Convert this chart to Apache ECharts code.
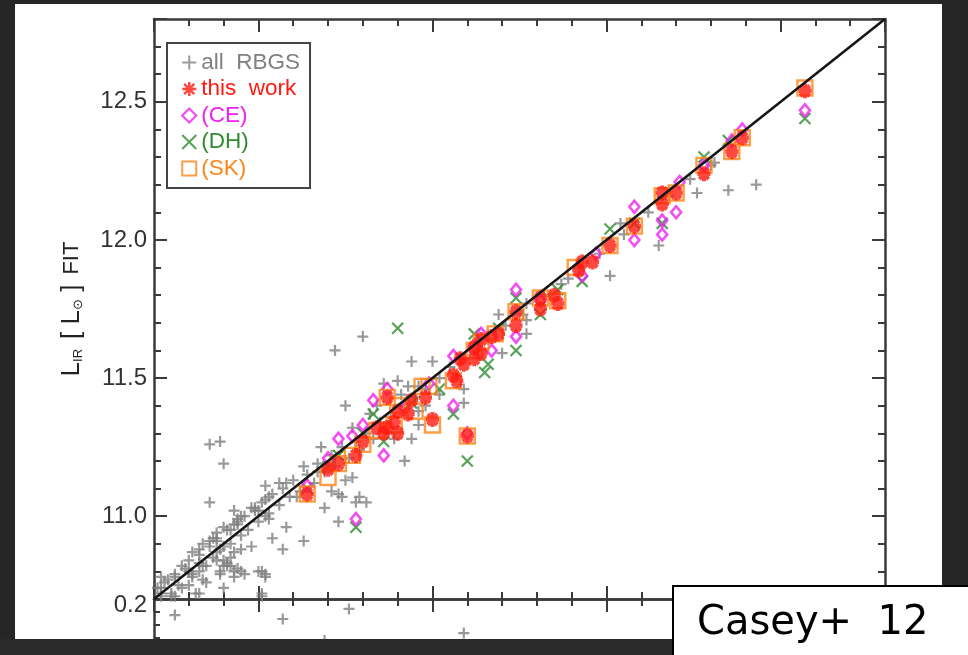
<!DOCTYPE html>
<html>
<head>
<meta charset="utf-8">
<script src="https://cdn.jsdelivr.net/npm/echarts@6/dist/echarts.min.js"></script>
<style>
html,body{margin:0;padding:0;background:#262626;}
#c{width:968px;height:655px;}
</style>
</head>
<body>
<div id="c"></div>
<script>
// ---------------- data ----------------
const axisMin = 10.7;
const axisMax = 12.8;
const majorTickLabels = [11.0, 11.5, 12.0, 12.5];
const residMin = 0.0;
const residMax = 0.2;
const residLabels = [0.2];

// all RBGS (gray crosses), [L_IR, L_IR fit]
const allRBGS = [
 [12.43,12.20],[12.35,12.18],[12.26,12.17],[12.31,12.28],[12.15,11.98],[12.01,11.87],[12.04,12.06],[11.89,11.86],
 [11.77,11.77],[11.69,11.73],[11.77,11.71],[11.77,11.66],[11.70,11.59],[11.59,11.46],[11.59,11.41],
 [11.30,11.65],[11.22,11.60],[11.44,11.56],[11.50,11.56],[11.40,11.49],[11.43,11.47],[11.46,11.47],[11.25,11.40],
 [11.48,11.40],[11.46,11.38],[11.42,11.20],[11.18,11.25],[11.13,11.18],[11.08,11.12],[11.09,11.07],[11.17,11.16],
 [11.25,11.13],[11.21,11.09],[11.24,11.07],[11.29,11.07],[11.27,11.32],[11.27,11.14],[11.23,11.08],[11.28,11.05],
 [11.31,11.05],[11.23,10.98],[11.36,11.48],[11.41,11.44],[11.34,11.40],[11.32,11.37],[11.39,11.28],[11.44,11.28],
 [11.46,11.33],[11.52,11.44],
 [10.86,11.26],[10.89,11.27],[10.90,11.19],[10.86,11.05],[11.02,11.11],[11.06,11.12],[10.93,11.02],[10.94,10.98],
 [10.99,11.02],[11.03,11.07],[11.11,11.07],[11.19,11.03],
 [11.08,10.96],[11.04,10.92],[11.07,10.88],[11.13,10.91],[10.98,10.89],[11.00,10.80],[11.02,10.79],[10.91,10.83],
 [10.94,10.81],[10.89,10.79],[10.88,10.84],[10.92,10.85],[10.93,10.87],[10.95,10.88],[10.82,10.72],[10.78,10.74],
 [10.75,10.71],[11.01,10.72],[10.84,10.77],
 [10.72,10.74],[10.74,10.77],[10.76,10.79],[10.77,10.75],[10.79,10.81],[10.80,10.84],[10.81,10.79],[10.83,10.86],
 [10.84,10.82],[10.86,10.89],[10.87,10.85],[10.88,10.92],[10.89,10.88],[10.91,10.95],[10.92,10.90],[10.94,10.97],
 [10.95,10.93],[10.96,11.00],[10.97,10.95],[10.99,11.03],[11.00,10.98],[11.01,11.05],[11.03,11.01],[11.04,11.08],
 [11.06,11.04],[11.07,11.10],[11.10,11.13],[11.12,11.09],[11.14,11.15],
 [11.16,11.12],[11.17,11.19],[11.19,11.16],[11.21,11.22],[11.22,11.18],[11.24,11.25],[11.26,11.21],[11.28,11.27],
 [11.29,11.24],[11.31,11.30],[11.33,11.28],[11.35,11.34],[11.38,11.36],[11.42,11.40],[11.45,11.43],[11.48,11.46],
 [11.52,11.50],[11.55,11.54],[11.58,11.57],[11.62,11.60],[11.66,11.64],[11.71,11.69],[11.76,11.73],[11.82,11.80],
 [11.87,11.84],[11.92,11.90],[11.98,11.95],[12.05,12.02],[12.12,12.10],[12.18,12.16],[12.24,12.22],[12.30,12.27],
 [10.72,10.78],[10.76,10.78],[10.80,10.75],[10.81,10.78],[10.83,10.80],[10.85,10.76],[10.83,10.72],[10.89,10.80],
 [10.90,10.82],[10.92,10.82],[10.93,10.80],[10.96,10.79],[10.90,10.74],[11.01,10.80],[11.02,10.78],[11.01,10.71],
 [10.76,10.71],[10.72,10.71],
 [10.80,10.80],[10.83,10.83],[10.85,10.82],[10.81,10.87],[10.83,10.88],[10.87,10.92],[10.88,10.94],[10.90,10.96],
 [10.92,10.95],[10.93,10.97],[10.94,10.99],[10.95,11.00],[10.98,11.03],[11.00,11.02],[11.02,11.06],
 [11.03,10.99],[11.02,11.00],[10.78,10.82],[10.73,10.76],[10.71,10.74],[10.72,10.72],[10.75,10.72],
 [10.86,10.91],[10.84,10.90],[10.88,10.91],[10.90,10.89],[10.88,10.87],[10.90,10.84],[10.91,10.82],[10.93,10.78],[10.95,10.80]
];
// residual panel (gray crosses), [L_IR, residual]
const allRBGSResid = [[10.76,0.138],[11.07,0.123],[11.26,0.162],[11.59,0.069],[11.19,0.040],[11.24,0.025]];

// this work (red asterisks)
const thisWork = [
 [11.14,11.08],[11.20,11.17],[11.23,11.19],[11.28,11.22],[11.30,11.27],[11.34,11.32],[11.36,11.30],[11.37,11.32],
 [11.39,11.34],[11.40,11.30],[11.40,11.38],[11.37,11.43],[11.43,11.37],[11.44,11.42],[11.48,11.43],[11.50,11.35],
 [11.56,11.51],[11.57,11.49],[11.58,11.57],[11.59,11.55],[11.60,11.29],[11.62,11.61],[11.64,11.64],[11.67,11.65],
 [11.69,11.66],[11.62,11.57],[11.64,11.59],[11.74,11.74],[11.74,11.69],[11.81,11.79],[11.81,11.75],[11.85,11.80],
 [11.86,11.77],[11.92,11.89],[11.93,11.92],[11.96,11.92],[12.01,11.98],[12.08,12.05],[12.16,12.17],[12.16,12.13],
 [12.20,12.17],[12.28,12.24],[12.36,12.32],[12.39,12.37],[12.57,12.54]
];
// (CE) magenta diamonds
const fitCE = [
 [11.14,11.11],[11.20,11.21],[11.23,11.28],[11.27,11.29],[11.30,11.33],[11.33,11.42],[11.37,11.46],[11.36,11.22],
 [11.28,10.99],[11.56,11.40],[11.60,11.30],[11.56,11.58],[11.64,11.66],[11.67,11.60],[11.74,11.82],[11.74,11.65],
 [11.93,11.87],[12.08,12.00],[12.16,12.02],[12.08,12.12],[12.16,12.07],[12.20,12.10],[12.21,12.21],[12.28,12.27],
 [12.36,12.36],[12.39,12.40],[12.57,12.47],[11.49,11.48],[11.62,11.62],[11.42,11.39],[11.81,11.78],[11.97,11.95]
];
// (DH) green crosses
const fitDH = [
 [11.40,11.68],[11.28,10.96],[11.60,11.20],[11.56,11.37],[11.65,11.52],[11.66,11.55],[11.74,11.79],[11.74,11.60],
 [11.81,11.73],[11.93,11.85],[12.01,12.04],[12.16,12.06],[12.28,12.30],[12.57,12.44],[11.62,11.66],[11.36,11.27],
 [11.33,11.37],[12.35,12.36],[11.14,11.10],[11.20,11.18],[11.44,11.41],[11.52,11.46],[11.69,11.68],[11.86,11.82],
 [12.08,12.06],[11.30,11.30],[11.23,11.22]
];
// (SK) orange squares
const fitSK = [
 [11.14,11.08],[11.20,11.14],[11.23,11.19],[11.27,11.22],[11.30,11.26],[11.34,11.31],[11.37,11.43],[11.40,11.40],
 [11.47,11.47],[11.49,11.47],[11.50,11.33],[11.56,11.49],[11.60,11.29],[11.64,11.63],[11.68,11.66],[11.74,11.74],
 [11.81,11.79],[11.91,11.90],[12.01,11.98],[12.08,12.05],[12.20,12.17],[12.28,12.27],[12.36,12.32],[12.39,12.37],
 [12.57,12.55],[11.62,11.60],[11.39,11.33],[11.45,11.38],[12.16,12.16],[11.86,11.78]
];
const oneToOne = [[axisMin, axisMin],[axisMax, axisMax]];

const seriesNames = ['all  RBGS', 'this  work', '(CE)', '(DH)', '(SK)'];

// ---------------- style ----------------
const FONT = 'Liberation Sans';
const AX = '#3a3a3a';
const GRAY = '#808080', RED = '#ff1a10', MAG = '#f020f0', GRN = '#2e8b2e', ORG = '#ff8418';
const SYM = {
  plus: 'path://M0,-6L0,6M-6,0L6,0',
  star: 'path://M0,-6L0,6M-6,0L6,0M-4.3,-4.3L4.3,4.3M4.3,-4.3L-4.3,4.3',
  diamond: 'path://M0,-6L6,0L0,6L-6,0Z',
  cross: 'path://M-6,-6L6,6M6,-6L-6,6',
  square: 'path://M-6,-6L6,-6L6,6L-6,6Z'
};
const CLEAR = 'rgba(0,0,0,0)';

function frameAxis(gridIndex, position, min, max, extra) {
  return Object.assign({
    type: 'value', gridIndex: gridIndex, position: position, min: min, max: max, splitNumber: 4,
    axisLine: {show: true, onZero: false, lineStyle: {color: AX, width: 2.5}},
    axisTick: {show: true, inside: true, length: 13, lineStyle: {color: AX, width: 2}},
    minorTick: {show: true, splitNumber: 5, length: 7, lineStyle: {color: AX, width: 2}},
    axisLabel: {show: false},
    splitLine: {show: false},
    minorSplitLine: {show: false}
  }, extra || {});
}
function isLabel(list, v) { return list.some(t => Math.abs(t - v) < 1e-6); }

const chart = echarts.init(document.getElementById('c'), null, {renderer: 'canvas', width: 968, height: 655});

const option = {
  backgroundColor: '#262626',
  animation: false,
  grid: [
    {left: 154, top: 19, width: 731, height: 580, outerBoundsMode: 'none', containLabel: false},
    {left: 154, top: 599, width: 731, height: 52, outerBoundsMode: 'none', containLabel: false}
  ],
  xAxis: [
    frameAxis(0, 'bottom', axisMin, axisMax),
    frameAxis(0, 'top', axisMin, axisMax),
    frameAxis(1, 'top', axisMin, axisMax)
  ],
  yAxis: [
    frameAxis(0, 'left', axisMin, axisMax, {
      axisLabel: {show: true, margin: 7, fontSize: 24, fontFamily: FONT, color: '#333',
        formatter: v => isLabel(majorTickLabels, v) ? v.toFixed(1) : ''},
      name: '{a|L}{s|IR}   {a|[ L}{s|\u2299}{a| ]}   {b|FIT}',
      nameLocation: 'middle', nameRotate: 90, nameGap: 69,
      nameTextStyle: {color: '#222', fontFamily: FONT,
        rich: {a: {fontSize: 26, color: '#222', fontFamily: FONT},
               s: {fontSize: 13, color: '#222', verticalAlign: 'bottom', fontFamily: FONT},
               b: {fontSize: 22, color: '#222', fontFamily: FONT}}}
    }),
    frameAxis(0, 'right', axisMin, axisMax),
    frameAxis(1, 'left', residMin, residMax, {
      interval: 0.05,
      axisTick: {show: true, inside: true, length: 6, lineStyle: {color: AX, width: 2}},
      minorTick: {show: false},
      axisLabel: {show: true, margin: 7, fontSize: 24, fontFamily: FONT, color: '#333',
        verticalAlign: 'top', lineHeight: 12,
        formatter: v => isLabel(residLabels, v) ? v.toFixed(1) : ''}
    }),
    frameAxis(1, 'right', residMin, residMax, {interval: 0.05, axisTick: {show: false}, minorTick: {show: false}})
  ],
  legend: {
    orient: 'vertical', left: 167, top: 43, padding: [8, 10, 8, 14], itemGap: 3.5,
    itemWidth: 14, itemHeight: 14, borderColor: '#444', borderWidth: 2, borderRadius: 0,
    backgroundColor: '#fff', selectedMode: false,
    textStyle: {fontFamily: FONT, fontSize: 22.5, lineHeight: 22},
    data: [
      {name: seriesNames[0], icon: SYM.plus, itemStyle: {color: CLEAR, borderColor: GRAY, borderWidth: 2}, textStyle: {color: GRAY}},
      {name: seriesNames[1], icon: SYM.star, itemStyle: {color: CLEAR, borderColor: RED, borderWidth: 2.5}, textStyle: {color: RED}},
      {name: seriesNames[2], icon: SYM.diamond, itemStyle: {color: CLEAR, borderColor: MAG, borderWidth: 2.2}, textStyle: {color: MAG}},
      {name: seriesNames[3], icon: SYM.cross, itemStyle: {color: CLEAR, borderColor: GRN, borderWidth: 2}, textStyle: {color: GRN}},
      {name: seriesNames[4], icon: SYM.square, itemStyle: {color: CLEAR, borderColor: ORG, borderWidth: 2}, textStyle: {color: ORG}}
    ]
  },
  series: [
    {name: seriesNames[0], type: 'scatter', xAxisIndex: 0, yAxisIndex: 0, data: allRBGS,
     symbol: SYM.plus, symbolSize: 11, itemStyle: {color: CLEAR, borderColor: GRAY, borderWidth: 2.2}},
    {name: seriesNames[0], type: 'scatter', xAxisIndex: 2, yAxisIndex: 2, data: allRBGSResid,
     symbol: SYM.plus, symbolSize: 11, itemStyle: {color: CLEAR, borderColor: GRAY, borderWidth: 2.2}},
    {name: 'one-to-one', type: 'line', xAxisIndex: 0, yAxisIndex: 0, data: oneToOne, showSymbol: false, symbol: 'none',
     lineStyle: {color: '#161616', width: 2.6}, silent: true},
    {name: seriesNames[3], type: 'scatter', xAxisIndex: 0, yAxisIndex: 0, data: fitDH,
     symbol: SYM.cross, symbolSize: 11, itemStyle: {color: CLEAR, borderColor: GRN, borderWidth: 2.2}},
    {name: seriesNames[2], type: 'scatter', xAxisIndex: 0, yAxisIndex: 0, data: fitCE,
     symbol: SYM.diamond, symbolSize: [10, 12], itemStyle: {color: CLEAR, borderColor: MAG, borderWidth: 2.6}},
    {name: seriesNames[4], type: 'scatter', xAxisIndex: 0, yAxisIndex: 0, data: fitSK,
     symbol: SYM.square, symbolSize: 15, itemStyle: {color: CLEAR, borderColor: ORG, borderWidth: 2.4}},
    {name: seriesNames[1], type: 'scatter', xAxisIndex: 0, yAxisIndex: 0, data: thisWork,
     symbol: SYM.star, symbolSize: [13, 15], itemStyle: {color: CLEAR, borderColor: RED, borderWidth: 4.2}}
  ],
  graphic: {
    elements: [
      {type: 'rect', silent: true, z: -100, shape: {x: 15, y: 4, width: 927, height: 635}, style: {fill: '#ffffff'}},
      {type: 'rect', silent: true, z: 100, shape: {x: 0, y: 639, width: 680, height: 20}, style: {fill: '#2a2a2a'}},
      {type: 'rect', silent: true, z: 101, shape: {x: 673, y: 586, width: 300, height: 80},
       style: {fill: '#ffffff', stroke: '#000000', lineWidth: 2}},
      {type: 'text', silent: true, z: 102, x: 697, y: 624,
       style: {text: 'Casey+  12', font: '40px "DejaVu Sans"', fill: '#000000', align: 'left', verticalAlign: 'middle',
               textAlign: 'left', textVerticalAlign: 'middle'}}
    ]
  }
};
chart.setOption(option);
</script>
</body>
</html>
